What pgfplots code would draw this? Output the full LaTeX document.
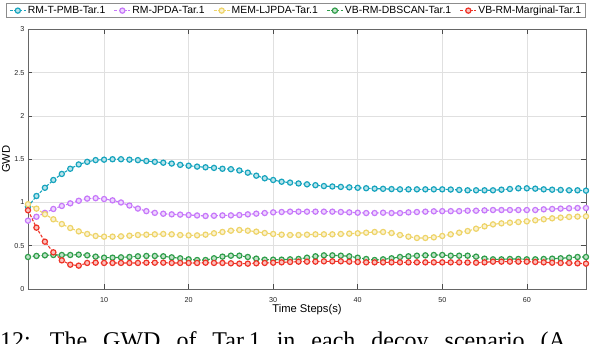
\documentclass[border=0pt]{standalone}
\usepackage{fontspec}
\setmainfont{Liberation Sans}
\newfontfamily\capfont{Liberation Serif}
\usepackage{pgfplots}
\pgfplotsset{compat=1.18}
\definecolor{cc}{RGB}{23,164,190}
\definecolor{pc}{RGB}{199,120,250}
\definecolor{yc}{RGB}{238,212,105}
\definecolor{gc}{RGB}{48,158,75}
\definecolor{rc}{RGB}{238,52,40}
\pgfplotsset{
  ser/.style={#1, line width=1.1pt, dash pattern=on 3pt off 1.6pt, mark=*, mark size=2.6pt,
    mark options={solid, draw=#1, fill=#1!30!white, line width=1.2pt}},
}
\begin{document}
\begin{tikzpicture}
\path[use as bounding box] (0pt,0pt) rectangle (590pt,344pt);
\begin{axis}[
  at={(28pt,55pt)}, anchor=south west,
  scale only axis, width=558pt, height=259.5pt,
  xmin=1, xmax=67, ymin=0, ymax=3,
  xtick={10,20,30,40,50,60}, ytick={0,0.5,1,1.5,2,2.5,3},
  grid=major, major grid style={black!12, line width=0.5pt},
  axis line style={black!60, line width=0.8pt},
  tick style={black!70, line width=0.6pt}, major tick length=4.5pt, tick align=inside,
  /pgf/number format/assume math mode=true,
  tick label style={font=\fontsize{7.2}{8}\selectfont, text=black!85},
  xticklabel style={yshift=-5pt},
  every axis x label/.style={at={(axis description cs:0.5,0)}, anchor=center, yshift=-20.5pt, font=\fontsize{11.2}{13}\selectfont},
  every axis y label/.style={at={(axis description cs:-0.0394,0.5)}, rotate=90, anchor=center, font=\fontsize{11.2}{13}\selectfont},
  xlabel={Time Steps(s)}, ylabel={GWD},
  legend columns=5,
  legend style={at={(0.4803,1)}, anchor=south, yshift=11.5pt, draw=black!45, line width=0.7pt,
    font=\fontsize{10.4}{12}\selectfont, inner xsep=3pt, inner ysep=1pt,
    /tikz/every even column/.append style={column sep=7pt},
    nodes={inner xsep=1.5pt, inner ysep=1.5pt}},
  legend image code/.code={\draw[mark repeat=2,mark phase=2] plot coordinates {(0pt,0pt) (8pt,0pt) (16pt,0pt)};},
]
\addplot[ser=cc] coordinates {
(1,0.95)(2,1.075)(3,1.17)(4,1.26)(5,1.33)(6,1.39)(7,1.44)(8,1.47)(9,1.49)(10,1.495)
(11,1.50)(12,1.50)(13,1.495)(14,1.49)(15,1.48)(16,1.47)(17,1.46)(18,1.45)(19,1.435)(20,1.425)
(21,1.415)(22,1.407)(23,1.40)(24,1.39)(25,1.385)(26,1.37)(27,1.345)(28,1.31)(29,1.28)(30,1.26)
(31,1.24)(32,1.23)(33,1.22)(34,1.21)(35,1.20)(36,1.19)(37,1.185)(38,1.18)(39,1.175)(40,1.17)
(41,1.165)(42,1.16)(43,1.158)(44,1.155)(45,1.152)(46,1.152)(47,1.152)(48,1.152)(49,1.152)(50,1.152)
(51,1.15)(52,1.145)(53,1.141)(54,1.141)(55,1.141)(56,1.141)(57,1.148)(58,1.156)(59,1.164)(60,1.164)
(61,1.16)(62,1.152)(63,1.148)(64,1.145)(65,1.141)(66,1.141)(67,1.137)};
\addlegendentry{RM-T-PMB-Tar.1}
\addplot[ser=pc] coordinates {
(1,0.79)(2,0.835)(3,0.88)(4,0.925)(5,0.96)(6,0.99)(7,1.02)(8,1.045)(9,1.05)(10,1.04)
(11,1.025)(12,1.00)(13,0.965)(14,0.93)(15,0.90)(16,0.88)(17,0.87)(18,0.863)(19,0.86)(20,0.855)
(21,0.85)(22,0.844)(23,0.847)(24,0.851)(25,0.851)(26,0.855)(27,0.863)(28,0.871)(29,0.878)(30,0.886)
(31,0.89)(32,0.894)(33,0.894)(34,0.894)(35,0.894)(36,0.894)(37,0.894)(38,0.89)(39,0.886)(40,0.882)
(41,0.878)(42,0.878)(43,0.882)(44,0.878)(45,0.878)(46,0.886)(47,0.89)(48,0.894)(49,0.898)(50,0.90)
(51,0.90)(52,0.90)(53,0.905)(54,0.905)(55,0.909)(56,0.913)(57,0.913)(58,0.913)(59,0.913)(60,0.913)
(61,0.913)(62,0.921)(63,0.925)(64,0.929)(65,0.933)(66,0.936)(67,0.936)};
\addlegendentry{RM-JPDA-Tar.1}
\addplot[ser=yc] coordinates {
(1,0.98)(2,0.929)(3,0.864)(4,0.806)(5,0.751)(6,0.705)(7,0.666)(8,0.636)(9,0.613)(10,0.605)
(11,0.605)(12,0.609)(13,0.616)(14,0.624)(15,0.628)(16,0.632)(17,0.636)(18,0.632)(19,0.624)(20,0.62)
(21,0.62)(22,0.628)(23,0.644)(24,0.659)(25,0.674)(26,0.682)(27,0.674)(28,0.663)(29,0.647)(30,0.636)
(31,0.628)(32,0.624)(33,0.624)(34,0.628)(35,0.632)(36,0.632)(37,0.632)(38,0.636)(39,0.64)(40,0.644)
(41,0.651)(42,0.659)(43,0.659)(44,0.647)(45,0.624)(46,0.605)(47,0.59)(48,0.59)(49,0.597)(50,0.613)
(51,0.632)(52,0.651)(53,0.67)(54,0.697)(55,0.724)(56,0.747)(57,0.759)(58,0.767)(59,0.774)(60,0.782)
(61,0.794)(62,0.806)(63,0.817)(64,0.825)(65,0.833)(66,0.837)(67,0.84)};
\addlegendentry{MEM-LJPDA-Tar.1}
\addplot[ser=gc] coordinates {
(1,0.37)(2,0.382)(3,0.389)(4,0.393)(5,0.393)(6,0.393)(7,0.397)(8,0.389)(9,0.374)(10,0.362)
(11,0.362)(12,0.366)(13,0.37)(14,0.378)(15,0.382)(16,0.382)(17,0.378)(18,0.366)(19,0.355)(20,0.343)
(21,0.335)(22,0.335)(23,0.355)(24,0.374)(25,0.385)(26,0.385)(27,0.37)(28,0.351)(29,0.339)(30,0.339)
(31,0.339)(32,0.343)(33,0.347)(34,0.362)(35,0.378)(36,0.389)(37,0.389)(38,0.385)(39,0.378)(40,0.362)
(41,0.347)(42,0.335)(43,0.343)(44,0.355)(45,0.37)(46,0.378)(47,0.385)(48,0.389)(49,0.393)(50,0.393)
(51,0.385)(52,0.385)(53,0.385)(54,0.374)(55,0.351)(56,0.343)(57,0.343)(58,0.347)(59,0.347)(60,0.343)
(61,0.343)(62,0.347)(63,0.351)(64,0.355)(65,0.362)(66,0.37)(67,0.37)};
\addlegendentry{VB-RM-DBSCAN-Tar.1}
\addplot[ser=rc] coordinates {
(1,0.91)(2,0.709)(3,0.547)(4,0.424)(5,0.331)(6,0.281)(7,0.27)(8,0.301)(9,0.304)(10,0.301)
(11,0.301)(12,0.301)(13,0.301)(14,0.301)(15,0.304)(16,0.304)(17,0.304)(18,0.301)(19,0.301)(20,0.301)
(21,0.301)(22,0.304)(23,0.301)(24,0.301)(25,0.297)(26,0.293)(27,0.293)(28,0.297)(29,0.301)(30,0.304)
(31,0.308)(32,0.312)(33,0.316)(34,0.316)(35,0.316)(36,0.32)(37,0.32)(38,0.32)(39,0.316)(40,0.312)
(41,0.308)(42,0.308)(43,0.308)(44,0.308)(45,0.308)(46,0.308)(47,0.308)(48,0.308)(49,0.308)(50,0.308)
(51,0.308)(52,0.308)(53,0.306)(54,0.304)(55,0.308)(56,0.316)(57,0.316)(58,0.316)(59,0.316)(60,0.316)
(61,0.312)(62,0.308)(63,0.304)(64,0.301)(65,0.301)(66,0.297)(67,0.293)};
\addlegendentry{VB-RM-Marginal-Tar.1}
\end{axis}
\node[anchor=base west, inner sep=0pt, font=\capfont\fontsize{24}{28}\selectfont] at (0pt,-4.6pt)
  {12:\hspace{19pt}The\hspace{16pt}GWD\hspace{16pt}of\hspace{16pt}Tar.1\hspace{16pt}in\hspace{16pt}each\hspace{16pt}decoy\hspace{16pt}scenario\hspace{16pt}(A};
\end{tikzpicture}
\end{document}
